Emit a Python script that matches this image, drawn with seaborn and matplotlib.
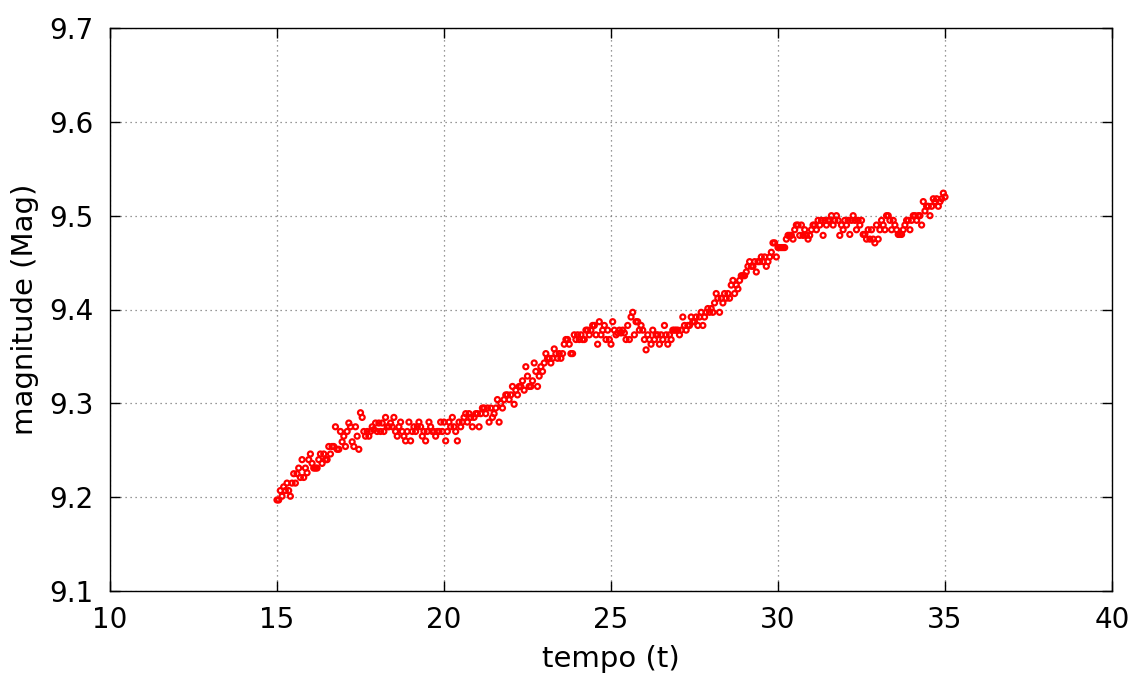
import numpy as np
import pandas as pd
import matplotlib
matplotlib.use("Agg")
import matplotlib.pyplot as plt
import seaborn as sns

# ---- data (magnitude every 0.05 time units, t = 15 .. 35) ----
t_start = 15.0
t_step = 0.05

mag_15_18 = [9.197, 9.197, 9.207, 9.201, 9.211, 9.207, 9.215, 9.207, 9.201, 9.215,
             9.225, 9.215, 9.225, 9.231, 9.221, 9.240, 9.221, 9.231, 9.226, 9.240,
             9.246, 9.236, 9.231, 9.231, 9.231, 9.240, 9.246, 9.236, 9.246, 9.240,
             9.240, 9.254, 9.246, 9.254, 9.254, 9.275, 9.251, 9.251, 9.270, 9.259,
             9.265, 9.254, 9.270, 9.279, 9.275, 9.259, 9.254, 9.275, 9.265, 9.251,
             9.290, 9.285, 9.270, 9.265, 9.270, 9.265, 9.270, 9.275, 9.272, 9.279,
             9.270, 9.279, 9.270, 9.279, 9.270, 9.285, 9.275, 9.275, 9.279]

mag_18_22 = [9.275, 9.285, 9.270, 9.265, 9.275, 9.280, 9.270, 9.265, 9.260, 9.270,
             9.280, 9.260, 9.270, 9.275, 9.270, 9.275, 9.280, 9.275, 9.265, 9.270,
             9.260, 9.270, 9.280, 9.275, 9.270, 9.270, 9.265, 9.270, 9.270, 9.280,
             9.270, 9.280, 9.260, 9.270, 9.280, 9.275, 9.285, 9.275, 9.270, 9.260,
             9.280, 9.275, 9.280, 9.285, 9.289, 9.280, 9.289, 9.285, 9.275, 9.285,
             9.289, 9.289, 9.275, 9.289, 9.295, 9.295, 9.289, 9.295, 9.280, 9.295,
             9.285, 9.289, 9.295, 9.304, 9.280, 9.300, 9.295, 9.304, 9.309, 9.309,
             9.304]

mag_22_25 = [9.309, 9.318, 9.299, 9.314, 9.309, 9.318, 9.318, 9.324, 9.314, 9.339,
             9.329, 9.318, 9.318, 9.324, 9.343, 9.334, 9.318, 9.329, 9.339, 9.334,
             9.343, 9.353, 9.348, 9.348, 9.343, 9.348, 9.358, 9.353, 9.348, 9.353,
             9.348, 9.353, 9.363, 9.368, 9.368, 9.363, 9.353, 9.353, 9.373, 9.368,
             9.373, 9.368, 9.373, 9.368, 9.368, 9.378, 9.378, 9.373, 9.378, 9.383,
             9.383, 9.373, 9.363, 9.387, 9.373, 9.378, 9.383, 9.368, 9.378, 9.368,
             9.363, 9.387, 9.378, 9.373]

mag_25_28 = [9.375, 9.378, 9.375, 9.378, 9.375, 9.368, 9.383, 9.368, 9.392, 9.397,
             9.373, 9.387, 9.387, 9.378, 9.383, 9.378, 9.368, 9.357, 9.373, 9.368,
             9.363, 9.378, 9.368, 9.373, 9.373, 9.363, 9.373, 9.368, 9.383, 9.373,
             9.363, 9.373, 9.368, 9.378, 9.378, 9.378, 9.378, 9.373, 9.378, 9.392,
             9.383, 9.378, 9.383, 9.383, 9.392, 9.387, 9.387, 9.392, 9.383, 9.392,
             9.397, 9.383, 9.392, 9.397, 9.401, 9.397, 9.401, 9.397, 9.407, 9.417,
             9.412, 9.397, 9.412, 9.407, 9.417]

mag_28_32 = [9.412, 9.417, 9.412, 9.426, 9.431, 9.417, 9.426, 9.422, 9.431, 9.436,
             9.436, 9.436, 9.440, 9.446, 9.451, 9.446, 9.446, 9.451, 9.440, 9.451,
             9.451, 9.456, 9.451, 9.456, 9.446, 9.451, 9.456, 9.461, 9.471, 9.471,
             9.456, 9.466, 9.466, 9.466, 9.466, 9.466, 9.475, 9.479, 9.479, 9.479,
             9.475, 9.485, 9.490, 9.490, 9.479, 9.490, 9.479, 9.485, 9.479, 9.475,
             9.479, 9.485, 9.490, 9.490, 9.485, 9.495, 9.490, 9.495, 9.479, 9.495,
             9.490, 9.495, 9.495, 9.500, 9.490, 9.495, 9.500, 9.495, 9.479]

mag_32_35 = [9.490, 9.485, 9.495, 9.490, 9.495, 9.480, 9.495, 9.500, 9.495, 9.485,
             9.495, 9.490, 9.495, 9.480, 9.480, 9.475, 9.485, 9.475, 9.485, 9.475,
             9.471, 9.490, 9.475, 9.485, 9.495, 9.490, 9.485, 9.500, 9.500, 9.495,
             9.485, 9.495, 9.490, 9.485, 9.480, 9.480, 9.480, 9.485, 9.490, 9.495,
             9.495, 9.485, 9.495, 9.500, 9.500, 9.495, 9.500, 9.500, 9.490, 9.515,
             9.505, 9.510, 9.510, 9.500, 9.510, 9.518, 9.515, 9.518, 9.510, 9.515,
             9.518, 9.524, 9.520]

x_ticks = [10, 15, 20, 25, 30, 35, 40]
y_ticks = [9.1, 9.2, 9.3, 9.4, 9.5, 9.6, 9.7]
x_label = "tempo (t)"
y_label = "magnitude (Mag)"

mag = np.array(mag_15_18 + mag_18_22 + mag_22_25 + mag_25_28 + mag_28_32 + mag_32_35)
tempo = t_start + t_step * np.arange(len(mag))
df = pd.DataFrame({"tempo": tempo, "mag": mag})

# ---- figure ----
sns.set_theme(style="white")
plt.rcParams["font.family"] = ["DejaVu Sans"]

fig = plt.figure(figsize=(11.31, 6.73), dpi=100)
ax = fig.add_axes([110 / 1131, 1 - 591 / 673, (1112 - 110) / 1131, (591 - 28) / 673])

sns.scatterplot(data=df, x="tempo", y="mag", ax=ax, marker="o",
                s=13, facecolors="none", edgecolor="#ff0000", linewidth=1.6,
                legend=False, zorder=3)

ax.set_xlim(10, 40)
ax.set_ylim(9.1, 9.7)
ax.set_xticks(x_ticks)
ax.set_yticks(y_ticks)
ax.set_xticklabels([str(v) for v in x_ticks])
ax.set_yticklabels([f"{v:.1f}" for v in y_ticks])

ax.grid(True, which="major", color="#777777", linestyle=(0, (1, 3)), linewidth=0.9)
ax.set_axisbelow(True)

for sp in ax.spines.values():
    sp.set_visible(True)
    sp.set_color("black")
    sp.set_linewidth(1.0)

ax.tick_params(axis="both", which="major", direction="in", length=7, width=1,
               color="black", labelsize=20, labelcolor="black",
               top=True, right=True, bottom=True, left=True)
ax.tick_params(axis="x", pad=11)
ax.tick_params(axis="y", pad=12)

ax.set_xlabel(x_label, fontsize=21, color="black", labelpad=8)
ax.set_ylabel(y_label, fontsize=21, color="black", labelpad=7)

fig.savefig("out.png", dpi=100, facecolor="white")
